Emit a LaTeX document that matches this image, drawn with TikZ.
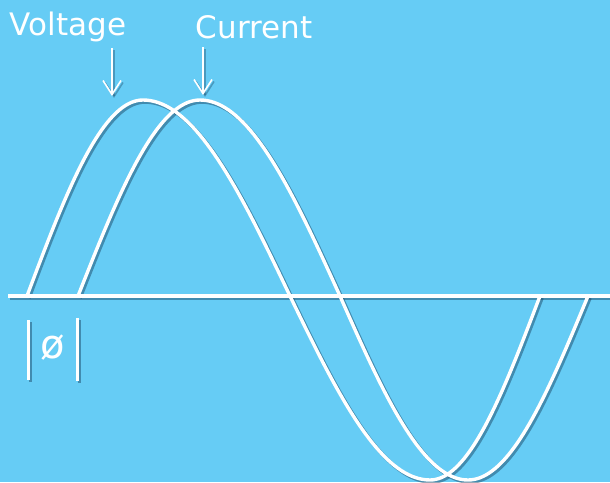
\documentclass[tikz,border=0pt]{standalone}
\usepackage{fontspec}
\setmainfont{DejaVu Sans}
\usetikzlibrary{arrows.meta}
\definecolor{bgblue}{RGB}{102,204,245}
\definecolor{shadowc}{RGB}{20,60,90}
\newcommand\wavepath[5]{%
  plot[domain=0:90,samples=40] ({#1+(#2-#1)*\x/90},{296-196*sin(\x)}) --
  plot[domain=0:90,samples=40] ({#2+(#3-#2)*\x/90},{296-196*cos(\x)}) --
  plot[domain=0:90,samples=40] ({#3+(#4-#3)*\x/90},{296+184*sin(\x)}) --
  plot[domain=0:90,samples=40] ({#4+(#5-#4)*\x/90},{296+184*cos(\x)})}
\tikzset{
  wline/.style={draw=white, line width=3.4pt, line join=round, line cap=round},
  sline/.style={draw=shadowc, draw opacity=0.45, line width=3.6pt, line join=round},
  thin arrow/.style={draw=white, line width=1.6pt, -{Straight Barb[length=14pt,width=18pt,line width=1.6pt]}},
  thin shadow/.style={draw=shadowc, draw opacity=0.35, line width=1.6pt, -{Straight Barb[length=14pt,width=18pt,line width=1.6pt]}},
  lbl/.style={text=white, font=\fontsize{31}{36}\selectfont, inner sep=0pt},
}
\begin{document}
\begin{tikzpicture}[x=1pt,y=-1pt]
\fill[bgblue] (0,0) rectangle (610,482);
\useasboundingbox (0,0) rectangle (610,482);
% shadows
\begin{scope}[shift={(2,2)}]
  \draw[sline] (8,296) -- (610,296);
  \draw[sline] \wavepath{27}{143}{290}{430}{540};
  \draw[sline] \wavepath{78}{200}{340}{468}{588};
  \draw[sline,line width=3pt] (28,320) -- (28,380);
  \draw[sline,line width=3pt] (77,318) -- (77,381);
  \draw[thin shadow] (112,48) -- (112,96);
  \draw[thin shadow] (203,47) -- (203,95);
\end{scope}
% axis and waves
\draw[wline,line cap=butt] (8,296) coordinate (axL) -- (610,296) coordinate (axR);
\draw[wline] \wavepath{27}{143}{290}{430}{540};
\draw[wline] \wavepath{78}{200}{340}{468}{588};
% phase marker
\draw[wline,line width=3pt,line cap=butt] (28,320) coordinate (b1t) -- (28,380) coordinate (b1b);
\draw[wline,line width=3pt,line cap=butt] (77,318) coordinate (b2t) -- (77,381) coordinate (b2b);
\node[lbl,font=\fontsize{40}{44}\selectfont] (phi) at (53,348) {ø};
% labels
\node[lbl] (volt) at (68,27) {Voltage};
\node[lbl] (curr) at (254,27) {Current};
\coordinate (vtip) at (112,96);
\coordinate (ctip) at (203,95);
\draw[thin arrow] (112,48) -- (vtip);
\draw[thin arrow] (203,47) -- (ctip);
\end{tikzpicture}
\end{document}
